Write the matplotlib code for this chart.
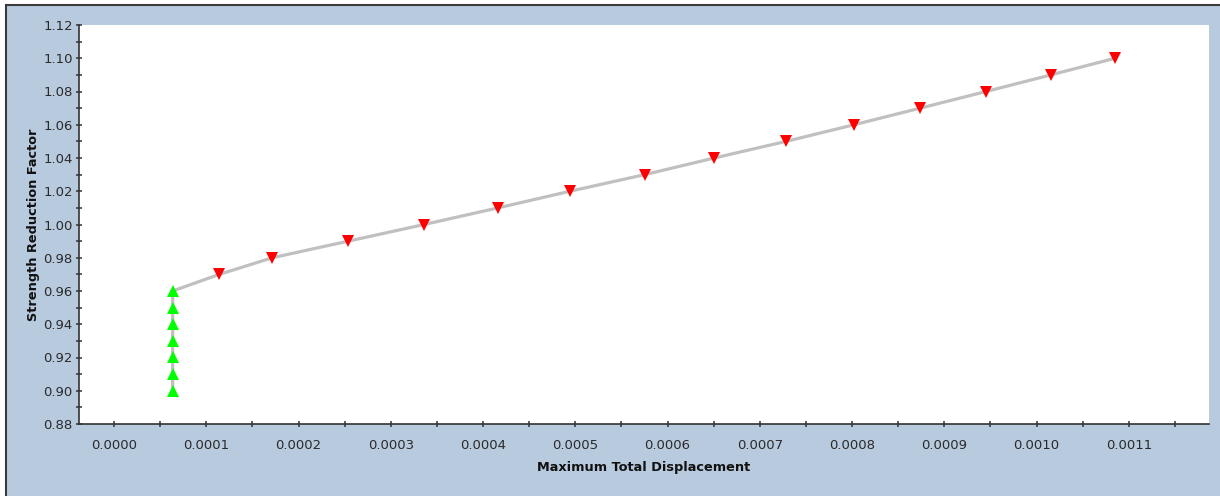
import matplotlib
matplotlib.use("Agg")
import matplotlib.pyplot as plt
from matplotlib.patches import Rectangle
from matplotlib.ticker import MultipleLocator, FormatStrFormatter

# ---- data ----
disp_green = [6.36e-5, 6.36e-5, 6.36e-5, 6.36e-5, 6.36e-5, 6.36e-5, 6.36e-5]
srf_green = [0.90, 0.91, 0.92, 0.93, 0.94, 0.95, 0.96]
disp_red = [1.141e-4, 1.716e-4, 2.540e-4, 3.362e-4, 4.163e-4, 4.943e-4, 5.753e-4,
            6.507e-4, 7.285e-4, 8.022e-4, 8.740e-4, 9.453e-4, 1.0157e-3, 1.0851e-3]
srf_red = [0.97, 0.98, 0.99, 1.00, 1.01, 1.02, 1.03, 1.04, 1.05, 1.06, 1.07, 1.08, 1.09, 1.10]
x_label = "Maximum Total Displacement"
y_label = "Strength Reduction Factor"

W, H = 1220, 496
fig = plt.figure(figsize=(W / 100, H / 100), dpi=100, facecolor="white")

bg = "#B8CADE"
fig.add_artist(Rectangle((6 / W, -0.1), 1.2, (H - 5) / H + 0.1, transform=fig.transFigure,
                         facecolor=bg, edgecolor="#3a3a3a", linewidth=1.5, zorder=-10))

ax = fig.add_axes([79 / W, (H - 424) / H, (1209 - 79) / W, (424 - 25) / H])
ax.set_facecolor("white")

all_x = disp_green + disp_red
all_y = srf_green + srf_red
ax.plot(all_x, all_y, color="#C0C0C0", linewidth=2.3, zorder=2, solid_capstyle="butt")
ax.plot(disp_green, srf_green, linestyle="none", marker="^", markersize=8.5,
        color="#00FF00", markeredgewidth=0, zorder=3)
ax.plot(disp_red, srf_red, linestyle="none", marker="v", markersize=8.5,
        color="#FF0000", markeredgewidth=0, zorder=3)

ax.set_xlim(-3.794e-5, 1.18699e-3)
ax.set_ylim(0.88, 1.12)

ax.xaxis.set_major_locator(MultipleLocator(0.0001))
ax.xaxis.set_minor_locator(MultipleLocator(0.00005))
ax.xaxis.set_major_formatter(FormatStrFormatter("%.4f"))
ax.yaxis.set_major_locator(MultipleLocator(0.02))
ax.yaxis.set_minor_locator(MultipleLocator(0.01))
ax.yaxis.set_major_formatter(FormatStrFormatter("%.2f"))

for s in ["top", "right"]:
    ax.spines[s].set_visible(False)
for s in ["left", "bottom"]:
    ax.spines[s].set_color("#333333")
    ax.spines[s].set_linewidth(1.2)

ax.tick_params(which="both", direction="inout", length=5, width=1.1, color="#333333")
ax.tick_params(axis="x", which="major", labelsize=9.5, labelcolor="#2a2a2a", pad=8)
ax.tick_params(axis="y", which="major", labelsize=9.5, labelcolor="#2a2a2a", pad=2)

ax.set_xlabel(x_label, fontsize=9.3, fontweight="bold", color="#111111", labelpad=7)
ax.set_ylabel(y_label, fontsize=9.3, fontweight="bold", color="#111111", labelpad=2)

fig.savefig("out.png", dpi=100, facecolor="white")
